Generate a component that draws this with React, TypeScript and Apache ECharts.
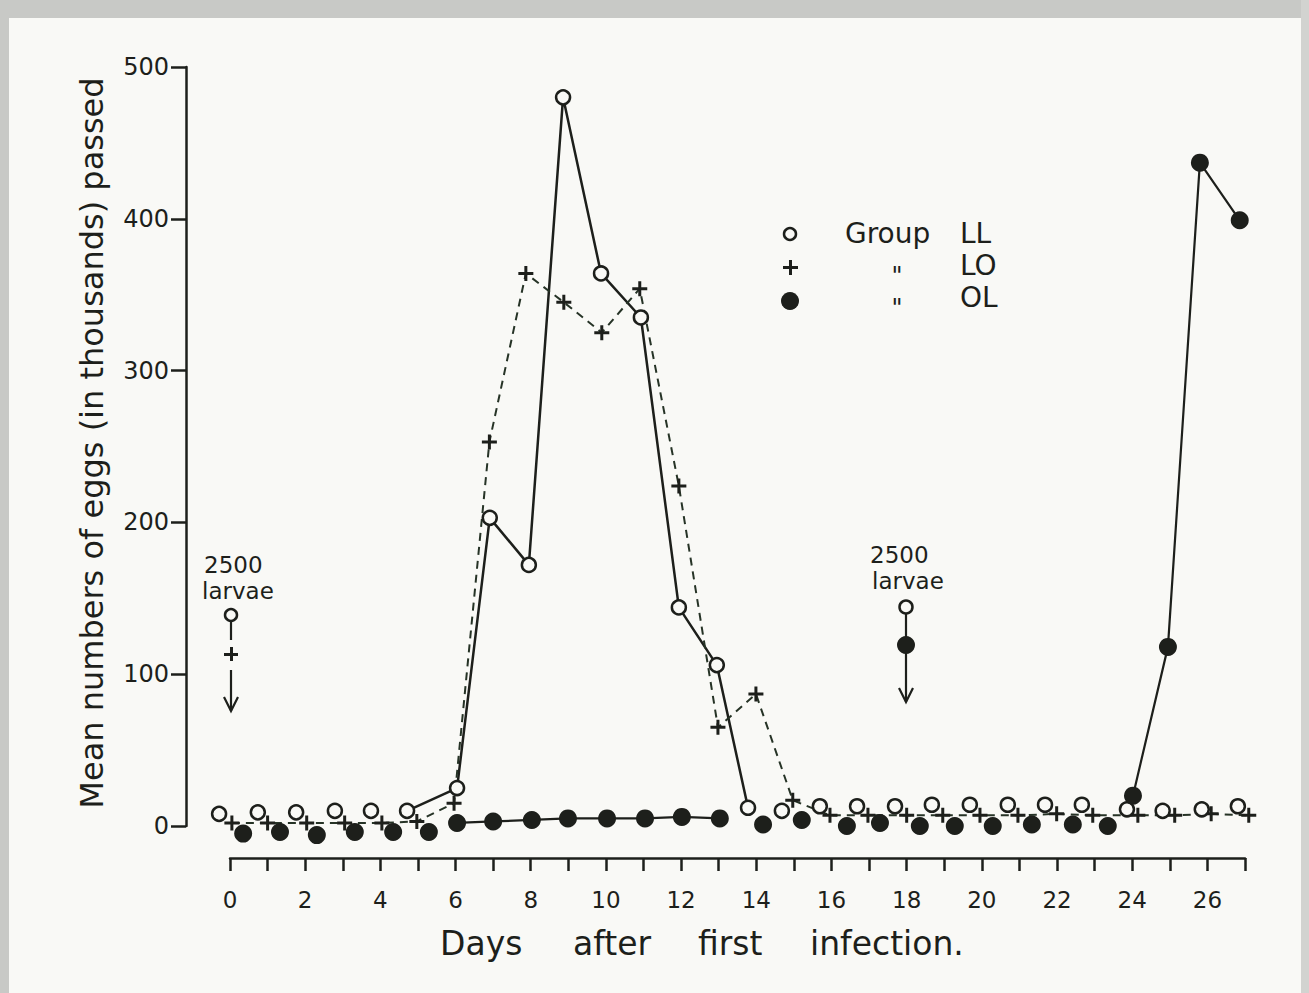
import React, { useEffect, useRef } from "react";
import * as echarts from "echarts";

// ---- data (x = day as drawn, y = thousands of eggs) ----
const llDays = [-0.29, 0.74, 1.76, 2.79, 3.75, 4.71, 6.04, 6.91, 7.95, 8.86, 9.87, 10.93, 11.94, 12.95, 13.78, 14.68, 15.69, 16.68, 17.69, 18.67, 19.68, 20.69, 21.68, 22.66, 23.86, 24.81, 25.85, 26.81];
const llEggs = [8, 9, 9, 10, 10, 10, 25, 203, 172, 480, 364, 335, 144, 106, 12, 10, 13, 13, 13, 14, 14, 14, 14, 14, 11, 10, 11, 13];

const loDays = [0.05, 1.0, 2.04, 3.05, 4.04, 4.97, 5.96, 6.9, 7.87, 8.88, 9.89, 10.9, 11.94, 12.98, 13.99, 14.97, 15.96, 16.97, 18.0, 18.96, 19.95, 20.96, 21.99, 22.95, 24.15, 25.13, 26.1, 27.1];
const loEggs = [2, 2, 2, 2, 2, 3, 15, 253, 364, 345, 325, 354, 224, 65, 87, 17, 7, 7, 7, 7, 7, 7, 8, 7, 7, 7, 8, 7];

const olDays = [0.35, 1.33, 2.31, 3.32, 4.34, 5.29, 6.04, 7.0, 8.03, 8.99, 10.03, 11.04, 12.02, 13.03, 14.18, 15.21, 16.41, 17.29, 18.35, 19.28, 20.29, 21.33, 22.42, 23.35, 24.02, 24.95, 25.8, 26.86];
const olEggs = [-5, -4, -6, -4, -4, -4, 2, 3, 4, 5, 5, 5, 6, 5, 1, 4, 0, 2, 0, 0, 0, 1, 1, 0, 20, 118, 437, 399];

// index ranges of each group joined by a line in the figure
const llLineRuns = [[5, 14]];
const loLineRuns = [[0, 27]];
const olLineRuns = [[6, 13], [24, 27]];

const xLabelDays = [0, 2, 4, 6, 8, 10, 12, 14, 16, 18, 20, 22, 24, 26];
const yMin = 0;
const yMax = 500;
const yStep = 100;
const groupNames = ["LL", "LO", "OL"];

const INK = "#1d1f1b";
const DASH_INK = "#263326";
const PAPER = "#f9f9f6";
const FONT = "DejaVu Sans";
const PLUS = "path://M6,0h3v6h6v3h-6v6h-3v-6h-6v-3h6z";

const points = (xs: number[], ys: number[]) => xs.map((x, i) => [x, ys[i]]);
const lineData = (xs: number[], ys: number[], runs: number[][]) =>
  xs.map((x, i) => (runs.some(([a, b]) => i >= a && i <= b) ? [x, ys[i]] : [x, "-"]));

const txt = (text: string, x: number, y: number, size: number, align = "left", extra: any = {}) => ({
  type: "text",
  x,
  y,
  z: 50,
  ...extra,
  style: {
    text,
    fill: INK,
    fontSize: size,
    fontFamily: FONT,
    textAlign: align,
    align,
    textVerticalAlign: "middle",
    verticalAlign: "middle",
  },
});

export default function App() {
  const ref = useRef<HTMLDivElement>(null);

  useEffect(() => {
    if (!ref.current) return;
    const chart = echarts.init(ref.current, null, { renderer: "svg" });

    const graphic: any[] = [
      // photo border
      { type: "rect", shape: { x: 0, y: 0, width: 1309, height: 18 }, style: { fill: "#c8c9c6" }, z: 1 },
      { type: "rect", shape: { x: 0, y: 0, width: 9, height: 993 }, style: { fill: "#c8c9c6" }, z: 1 },
      { type: "rect", shape: { x: 1301, y: 0, width: 8, height: 993 }, style: { fill: "#d2d3d0" }, z: 1 },
      // axis titles
      txt("Mean numbers of eggs (in thousands) passed", 92, 443, 32, "center", { rotation: Math.PI / 2 }),
      txt("Days", 440, 943, 33),
      txt("after", 573, 943, 33),
      txt("first", 698, 943, 33),
      txt("infection.", 810, 943, 33),
      // legend
      { type: "circle", shape: { cx: 790, cy: 234, r: 6 }, style: { fill: PAPER, stroke: INK, lineWidth: 2.5 }, z: 50 },
      { type: "rect", shape: { x: 783, y: 266, width: 15, height: 3 }, style: { fill: INK }, z: 50 },
      { type: "rect", shape: { x: 789, y: 260, width: 3, height: 15 }, style: { fill: INK }, z: 50 },
      { type: "circle", shape: { cx: 790, cy: 301, r: 9 }, style: { fill: INK }, z: 50 },
      txt("Group", 845, 233, 28),
      txt(groupNames[0], 960, 233, 28),
      txt('"', 897, 276, 24, "center"),
      txt(groupNames[1], 960, 265, 28),
      txt('"', 897, 308, 24, "center"),
      txt(groupNames[2], 960, 297, 28),
      // first infection annotation
      txt("2500", 204, 565, 23),
      txt("larvae", 202, 591, 23),
      { type: "circle", shape: { cx: 231, cy: 615, r: 6 }, style: { fill: PAPER, stroke: INK, lineWidth: 2.5 }, z: 50 },
      { type: "line", shape: { x1: 231, y1: 621, x2: 231, y2: 640 }, style: { stroke: INK, lineWidth: 2.2 }, z: 50 },
      { type: "rect", shape: { x: 224, y: 653, width: 14, height: 3 }, style: { fill: INK }, z: 50 },
      { type: "rect", shape: { x: 230, y: 647, width: 3, height: 14 }, style: { fill: INK }, z: 50 },
      { type: "line", shape: { x1: 231, y1: 670, x2: 231, y2: 711 }, style: { stroke: INK, lineWidth: 2.2 }, z: 50 },
      { type: "polyline", shape: { points: [[224, 697], [231, 711], [238, 697]] }, style: { stroke: INK, lineWidth: 2.2, fill: "none" }, z: 50 },
      // second infection annotation
      txt("2500", 870, 555, 23),
      txt("larvae", 872, 581, 23),
      { type: "line", shape: { x1: 906, y1: 613, x2: 906, y2: 702 }, style: { stroke: INK, lineWidth: 2.2 }, z: 49 },
      { type: "circle", shape: { cx: 906, cy: 607, r: 6.5 }, style: { fill: PAPER, stroke: INK, lineWidth: 2.5 }, z: 50 },
      { type: "circle", shape: { cx: 906, cy: 645, r: 9 }, style: { fill: INK }, z: 50 },
      { type: "polyline", shape: { points: [[899, 688], [906, 702], [913, 688]] }, style: { stroke: INK, lineWidth: 2.2, fill: "none" }, z: 50 },
    ];

    const axisLine = { show: true, onZero: false, lineStyle: { color: INK, width: 2.5 } };

    chart.setOption({
      animation: false,
      backgroundColor: PAPER,
      grid: { left: 230, right: 64, top: 67, bottom: 167, containLabel: false },
      xAxis: {
        type: "value",
        min: 0,
        max: 27,
        interval: 1,
        offset: 32,
        axisLine,
        axisTick: { show: true, length: 13, lineStyle: { color: INK, width: 2.5 } },
        axisLabel: {
          margin: 30,
          color: INK,
          fontSize: 23,
          fontFamily: FONT,
          formatter: (v: number) => (xLabelDays.includes(v) ? String(v) : ""),
        },
        splitLine: { show: false },
      },
      yAxis: {
        type: "value",
        min: yMin,
        max: yMax,
        interval: yStep,
        offset: 44,
        axisLine,
        axisTick: { show: true, length: 15, lineStyle: { color: INK, width: 2.5 } },
        axisLabel: { margin: 17, color: INK, fontSize: 24, fontFamily: FONT },
        splitLine: { show: false },
      },
      graphic,
      series: [
        {
          type: "line",
          name: "LL line",
          data: lineData(llDays, llEggs, llLineRuns),
          symbol: "none",
          lineStyle: { color: INK, width: 2.5 },
          clip: false,
          z: 2,
        },
        {
          type: "line",
          name: "LO line",
          data: lineData(loDays, loEggs, loLineRuns),
          symbol: "none",
          lineStyle: { color: DASH_INK, width: 2, type: [8, 6] },
          clip: false,
          z: 2,
        },
        {
          type: "line",
          name: "OL line",
          data: lineData(olDays, olEggs, olLineRuns),
          symbol: "none",
          lineStyle: { color: INK, width: 2.2 },
          clip: false,
          z: 2,
        },
        {
          type: "scatter",
          name: "LO",
          data: points(loDays, loEggs),
          symbol: PLUS,
          symbolSize: 15,
          itemStyle: { color: INK, opacity: 1 },
          clip: false,
          z: 3,
        },
        {
          type: "scatter",
          name: "LL",
          data: points(llDays, llEggs),
          symbol: "circle",
          symbolSize: 14,
          itemStyle: { color: PAPER, borderColor: INK, borderWidth: 2.5, opacity: 1 },
          clip: false,
          z: 4,
        },
        {
          type: "scatter",
          name: "OL",
          data: points(olDays, olEggs),
          symbol: "circle",
          symbolSize: 18,
          itemStyle: { color: INK, opacity: 1 },
          clip: false,
          z: 5,
        },
      ],
    });

    return () => chart.dispose();
  }, []);

  return (
    <div
      ref={ref}
      style={{ position: "absolute", left: 0, top: 0, width: 1309, height: 993 }}
    />
  );
}
